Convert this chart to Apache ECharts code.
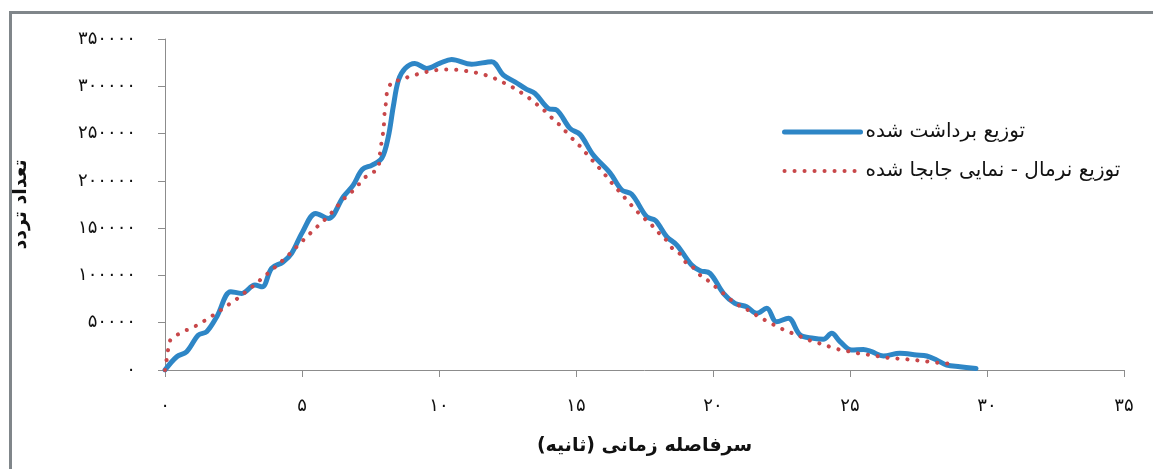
<!DOCTYPE html>
<html><head><meta charset="utf-8">
<script src="https://cdn.jsdelivr.net/npm/echarts@6/dist/echarts.min.js"></script>
<style>html,body{margin:0;padding:0;background:#fff}#c{width:1153px;height:469px}</style>
</head><body><div id="c"></div>
<script>
const seriesNames = ['توزیع برداشت شده', 'توزیع نرمال - نمایی جابجا شده'];
const xTitle = 'سرفاصله زمانی (ثانیه)';
const yTitle = 'تعداد تردد';
const persianDigits = ['۰','۱','۲','۳','۴','۵','۶','۷','۸','۹'];

// observed distribution [headway s, count]
const observed = [
  [0,0],[0.43,14000],[0.79,19300],[1.22,37000],[1.52,40500],[1.89,56300],[2.4,82800],
  [2.8,81000],[3.28,89800],[3.55,88000],[3.89,107500],[4.3,114000],[4.62,123300],
  [5.02,146000],[5.5,165600],[5.96,160300],[6.51,183200],[6.87,195500],[7.2,212000],
  [7.56,216700],[7.91,223800],[8.15,246600],[8.33,278300],[8.52,306500],[8.76,318900],
  [9.12,324200],[9.55,318900],[10.04,324500],[10.46,328400],[11.19,323400],[11.92,326000],
  [12.35,311800],[12.77,304700],[13.2,296700],[13.5,292500],[13.99,276600],[14.3,274800],
  [14.78,255500],[15.15,249000],[15.63,227300],[16.24,208500],[16.67,190300],[17.03,186000],
  [17.58,162000],[17.9,158000],[18.31,140900],[18.68,132100],[19.22,111000],[19.53,105000],
  [19.89,102200],[20.38,81100],[20.8,70500],[21.23,66900],[21.59,59900],[21.96,65200],
  [22.32,51000],[22.75,54600],[23.18,37000],[23.66,33500],[24.03,32400],[24.33,38800],
  [24.64,29900],[25.06,21100],[25.49,21800],[25.79,19300],[26.22,14800],[26.82,17600],
  [27.43,15900],[27.8,14800],[28.16,10600],[28.53,5300],[29.01,3500],[29.6,1500]
];

// shifted normal-exponential fit [headway s, count]
const fitted = [
  [0,0],[0.06,10500],[0.12,21800],[0.2,32000],[0.49,37700],[0.81,42300],[1.16,46800],
  [1.46,52100],[1.8,58100],[2.1,64100],[2.41,70500],[2.71,76400],[3.0,83500],[3.28,89800],
  [3.56,96900],[3.86,104600],[4.14,112000],[4.42,119100],[4.68,126800],[4.94,134500],
  [5.2,142000],[5.47,149800],[5.74,156800],[6.02,165000],[6.27,173300],[6.53,181500],
  [6.81,188500],[7.08,196300],[7.34,204300],[7.64,209600],[7.8,216000],[7.85,229000],
  [7.91,241300],[7.97,251900],[8.02,273000],[8.11,294200],[8.27,304700],[8.61,306500],
  [8.98,310800],[9.34,313600],[9.71,316400],[10.1,317800],[10.46,317800],[10.8,317100],
  [11.19,315300],[11.56,312900],[11.92,309800],[12.25,305000],[12.59,300300],[12.9,294800],
  [13.2,289200],[13.5,281900],[13.81,274800],[14.05,267700],[14.36,260000],[14.6,252500],
  [14.9,244200],[15.15,237000],[15.39,229000],[15.63,221200],[15.88,213200],[16.12,205100],
  [16.36,196600],[16.61,188500],[16.85,180400],[17.09,172600],[17.34,164900],[17.64,156800],
  [17.92,148700],[18.13,140900],[18.68,125000],[19.16,109900],[19.77,95100],[20.07,88000],
  [20.38,81100],[20.68,74000],[21.05,66900],[21.35,62700],[21.65,57100],[21.96,52100],
  [22.26,47600],[22.57,43000],[22.93,38800],[23.3,34500],[23.66,29900],[24.03,27200],
  [24.33,24000],[24.7,21100],[25.06,19300],[25.43,16900],[25.79,15900],[26.22,13400],
  [26.58,12300],[26.95,11600],[27.31,10600],[27.68,9500],[28.04,8100],[28.41,7000],[28.8,6000]
];

function toPersian(v){ return String(v).replace(/[0-9]/g, d => persianDigits[+d]); }

const FONT = '"DejaVu Sans", "Noto Sans", sans-serif';
const axisColor = '#8c8c8c';
const chart = echarts.init(document.getElementById('c'), null, {renderer:'canvas'});
chart.setOption({
  backgroundColor: '#fff',
  animation: false,
  textStyle: {fontFamily: FONT},
  graphic: [{
    type: 'rect', left: 8, top: 10, silent: true,
    shape: {x: 0, y: 0, width: 1160, height: 480},
    style: {fill: 'none', stroke: '#80868a', lineWidth: 3}
  }],
  grid: {left: 165, right: 29, top: 39, bottom: 99},
  legend: {
    orient: 'vertical', left: 777, top: 117,
    itemWidth: 76, itemHeight: 18, itemGap: 19,
    textStyle: {fontFamily: FONT, fontSize: 20, color: '#111'},
    itemStyle: {opacity: 0},
    lineStyle: {width: 'inherit', type: 'inherit', cap: 'round'},
    data: seriesNames
  },
  xAxis: {
    type: 'value', min: 0, max: 35, interval: 5,
    name: xTitle, nameLocation: 'middle', nameGap: 67,
    nameTextStyle: {fontFamily: FONT, fontSize: 19, fontWeight: 'bold', color: '#111'},
    axisLine: {show: true, lineStyle: {color: axisColor, width: 1}},
    axisTick: {show: true, inside: false, length: 7, lineStyle: {color: axisColor}},
    splitLine: {show: false},
    axisLabel: {margin: 27, fontSize: 18, color: '#111', fontFamily: FONT, formatter: v => toPersian(v)}
  },
  yAxis: {
    type: 'value', min: 0, max: 350000, interval: 50000,
    name: yTitle, nameLocation: 'middle', nameGap: 134, nameRotate: 90,
    nameTextStyle: {fontFamily: FONT, fontSize: 19, fontWeight: 'bold', color: '#111'},
    axisLine: {show: true, lineStyle: {color: axisColor, width: 1}},
    axisTick: {show: true, inside: false, length: 7, lineStyle: {color: axisColor}},
    splitLine: {show: false},
    axisLabel: {margin: 29, fontSize: 18, color: '#111', fontFamily: FONT, formatter: v => toPersian(v)}
  },
  series: [
    {
      name: seriesNames[0], type: 'line', data: observed,
      smooth: 0.35, showSymbol: false, symbol: 'none', z: 2,
      lineStyle: {color: '#2e86c6', width: 5, cap: 'round', join: 'round'},
      itemStyle: {color: '#2e86c6'}
    },
    {
      name: seriesNames[1], type: 'line', data: fitted,
      smooth: 0.3, smoothMonotone: 'x', showSymbol: false, symbol: 'none', z: 3,
      lineStyle: {color: '#c8474a', width: 4, type: [0.1, 9.9], cap: 'round'},
      itemStyle: {color: '#c8474a'}
    }
  ]
});
</script></body></html>
